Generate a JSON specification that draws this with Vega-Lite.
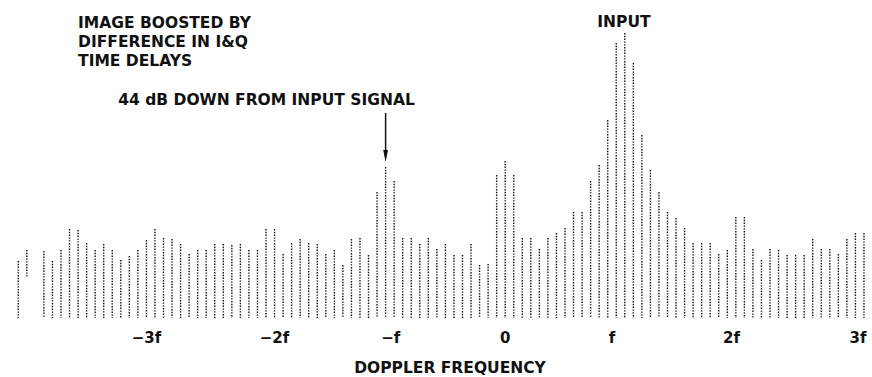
{
  "$schema": "https://vega.github.io/schema/vega-lite/v6.json",
  "width": 872,
  "height": 377,
  "autosize": {"type": "none"},
  "padding": 0,
  "background": "white",
  "config": {"view": {"stroke": null}, "text": {"font": "DejaVu Sans", "color": "#111"}},
  "datasets": {
    "lines": [
      {"b": -57, "lvl": 57, "low": 0}, {"b": -56, "lvl": 68, "low": 40}, {"b": -54, "lvl": 67, "low": 0},
      {"b": -53, "lvl": 57, "low": 0}, {"b": -52, "lvl": 68, "low": 0}, {"b": -51, "lvl": 89, "low": 0},
      {"b": -50, "lvl": 88, "low": 0}, {"b": -49, "lvl": 75, "low": 0}, {"b": -48, "lvl": 68, "low": 0},
      {"b": -47, "lvl": 74, "low": 0}, {"b": -46, "lvl": 68, "low": 0}, {"b": -45, "lvl": 58, "low": 0},
      {"b": -44, "lvl": 62, "low": 0}, {"b": -43, "lvl": 68, "low": 0}, {"b": -42, "lvl": 78, "low": 0},
      {"b": -41, "lvl": 89, "low": 0}, {"b": -40, "lvl": 80, "low": 0}, {"b": -39, "lvl": 79, "low": 0},
      {"b": -38, "lvl": 74, "low": 0}, {"b": -37, "lvl": 64, "low": 0}, {"b": -36, "lvl": 68, "low": 0},
      {"b": -35, "lvl": 68, "low": 0}, {"b": -34, "lvl": 74, "low": 0}, {"b": -33, "lvl": 74, "low": 0},
      {"b": -32, "lvl": 73, "low": 0}, {"b": -31, "lvl": 74, "low": 0}, {"b": -30, "lvl": 68, "low": 0},
      {"b": -29, "lvl": 68, "low": 0}, {"b": -28, "lvl": 89, "low": 0}, {"b": -27, "lvl": 89, "low": 0},
      {"b": -26, "lvl": 64, "low": 0}, {"b": -25, "lvl": 75, "low": 0}, {"b": -24, "lvl": 79, "low": 0},
      {"b": -23, "lvl": 75, "low": 0}, {"b": -22, "lvl": 74, "low": 0}, {"b": -21, "lvl": 64, "low": 0},
      {"b": -20, "lvl": 68, "low": 0}, {"b": -19, "lvl": 53, "low": 0}, {"b": -18, "lvl": 79, "low": 0},
      {"b": -17, "lvl": 80, "low": 0}, {"b": -16, "lvl": 63, "low": 0}, {"b": -15, "lvl": 126, "low": 0},
      {"b": -14, "lvl": 151, "low": 0}, {"b": -13, "lvl": 137, "low": 0}, {"b": -12, "lvl": 80, "low": 0},
      {"b": -11, "lvl": 80, "low": 0}, {"b": -10, "lvl": 74, "low": 0}, {"b": -9, "lvl": 80, "low": 0},
      {"b": -8, "lvl": 69, "low": 0}, {"b": -7, "lvl": 74, "low": 0}, {"b": -6, "lvl": 63, "low": 0},
      {"b": -5, "lvl": 63, "low": 0}, {"b": -4, "lvl": 74, "low": 0}, {"b": -3, "lvl": 53, "low": 0},
      {"b": -2, "lvl": 54, "low": 0}, {"b": -1, "lvl": 143, "low": 0}, {"b": 0, "lvl": 157, "low": 0},
      {"b": 1, "lvl": 143, "low": 0}, {"b": 2, "lvl": 80, "low": 0}, {"b": 3, "lvl": 80, "low": 0},
      {"b": 4, "lvl": 69, "low": 0}, {"b": 5, "lvl": 80, "low": 0}, {"b": 6, "lvl": 85, "low": 0},
      {"b": 7, "lvl": 90, "low": 0}, {"b": 8, "lvl": 106, "low": 0}, {"b": 9, "lvl": 106, "low": 0},
      {"b": 10, "lvl": 137, "low": 0}, {"b": 11, "lvl": 153, "low": 0}, {"b": 12, "lvl": 198, "low": 0},
      {"b": 13, "lvl": 275, "low": 0}, {"b": 14, "lvl": 285, "low": 0}, {"b": 15, "lvl": 255, "low": 0},
      {"b": 16, "lvl": 183, "low": 0}, {"b": 17, "lvl": 148, "low": 0}, {"b": 18, "lvl": 126, "low": 0},
      {"b": 19, "lvl": 106, "low": 0}, {"b": 20, "lvl": 100, "low": 0}, {"b": 21, "lvl": 90, "low": 0},
      {"b": 22, "lvl": 75, "low": 0}, {"b": 23, "lvl": 75, "low": 0}, {"b": 24, "lvl": 75, "low": 0},
      {"b": 25, "lvl": 64, "low": 0}, {"b": 26, "lvl": 68, "low": 0}, {"b": 27, "lvl": 101, "low": 0},
      {"b": 28, "lvl": 101, "low": 0}, {"b": 29, "lvl": 69, "low": 0}, {"b": 30, "lvl": 58, "low": 0},
      {"b": 31, "lvl": 69, "low": 0}, {"b": 32, "lvl": 68, "low": 0}, {"b": 33, "lvl": 63, "low": 0},
      {"b": 34, "lvl": 63, "low": 0}, {"b": 35, "lvl": 63, "low": 0}, {"b": 36, "lvl": 79, "low": 0},
      {"b": 37, "lvl": 69, "low": 0}, {"b": 38, "lvl": 69, "low": 0}, {"b": 39, "lvl": 64, "low": 0},
      {"b": 40, "lvl": 79, "low": 0}, {"b": 41, "lvl": 85, "low": 0}, {"b": 42, "lvl": 85, "low": 0}
    ],
    "ticks": [
      {"b": -42, "t": "−3f"}, {"b": -27, "t": "−2f"}, {"b": -13.4, "t": "−f"}, {"b": 0, "t": "0"},
      {"b": 12.5, "t": "f"}, {"b": 26.5, "t": "2f"}, {"b": 41.3, "t": "3f"}
    ],
    "leftNotes": [
      {"b": -50, "lvl": 295, "t": "IMAGE BOOSTED BY"},
      {"b": -50, "lvl": 276, "t": "DIFFERENCE IN I&Q"},
      {"b": -50, "lvl": 257, "t": "TIME DELAYS"}
    ],
    "centerNotes": [
      {"b": -27.94, "lvl": 218, "t": "44 dB DOWN FROM INPUT SIGNAL"},
      {"b": 13.9, "lvl": 296, "t": "INPUT"},
      {"b": -6.46, "lvl": -50, "t": "DOPPLER FREQUENCY"}
    ],
    "arrow": [{"b": -14, "top": 205, "bot": 166, "tip": 162}]
  },
  "encoding": {
    "x": {"field": "b", "type": "quantitative", "scale": {"domain": [-59.14, 42.94], "nice": false, "zero": false}, "axis": null}
  },
  "layer": [
    {
      "data": {"name": "lines"},
      "mark": {"type": "rule", "strokeDash": [1.4, 1.4], "strokeWidth": 1.4, "color": "#111"},
      "encoding": {
        "y": {"field": "lvl", "type": "quantitative", "scale": {"domain": [-59, 318], "nice": false, "zero": false}, "axis": null},
        "y2": {"field": "low"}
      }
    },
    {
      "data": {"name": "ticks"},
      "mark": {"type": "text", "fontSize": 15, "fontWeight": "bold", "baseline": "middle", "align": "center"},
      "encoding": {
        "y": {"datum": -20, "type": "quantitative"},
        "text": {"field": "t"}
      }
    },
    {
      "data": {"name": "leftNotes"},
      "mark": {"type": "text", "fontSize": 15.5, "fontWeight": "bold", "baseline": "middle", "align": "left"},
      "encoding": {
        "y": {"field": "lvl", "type": "quantitative"},
        "text": {"field": "t"}
      }
    },
    {
      "data": {"name": "centerNotes"},
      "mark": {"type": "text", "fontSize": 15.5, "fontWeight": "bold", "baseline": "middle", "align": "center"},
      "encoding": {
        "y": {"field": "lvl", "type": "quantitative"},
        "text": {"field": "t"}
      }
    },
    {
      "data": {"name": "arrow"},
      "mark": {"type": "rule", "strokeWidth": 1.5, "color": "#111"},
      "encoding": {
        "y": {"field": "top", "type": "quantitative"},
        "y2": {"field": "bot"}
      }
    },
    {
      "data": {"name": "arrow"},
      "mark": {"type": "point", "filled": true, "shape": "M-0.4,-1L0.4,-1L0,1Z", "size": 144, "color": "#111", "opacity": 1},
      "encoding": {
        "y": {"field": "tip", "type": "quantitative"}
      }
    }
  ]
}
